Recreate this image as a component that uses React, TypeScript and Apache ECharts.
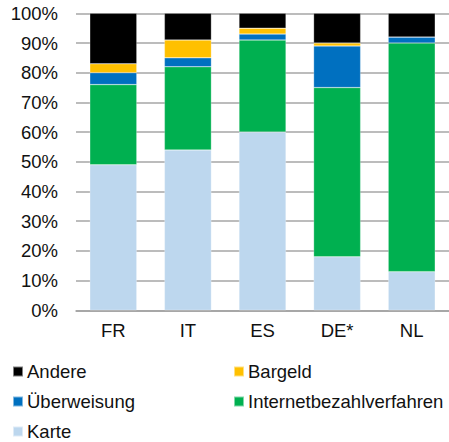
import React, { useEffect, useRef } from "react";
import * as echarts from "echarts";

const categories = ["FR", "IT", "ES", "DE*", "NL"];
const karte = [49, 54, 60, 18, 13];
const internet = [27, 28, 31, 57, 77];
const ueberweisung = [4, 3, 2, 14, 2];
const bargeld = [3, 6, 2, 1, 0];
const andere = [17, 9, 5, 10, 8];
const yTicks = [0, 10, 20, 30, 40, 50, 60, 70, 80, 90, 100];

const FONT = "'Liberation Sans', Arial, sans-serif";
const FS = 18.5;

export default function App() {
  const ref = useRef<HTMLDivElement>(null);
  useEffect(() => {
    if (!ref.current) return;
    const chart = echarts.init(ref.current, null, { renderer: "svg" });
    const mk = (name: string, data: number[], color: string) => ({
      name,
      type: "bar",
      stack: "total",
      data,
      barWidth: 47,
      itemStyle: { color, borderColor: "rgba(255,255,255,0.5)", borderWidth: 0.5 },
    });
    const legendItem = (name: string, left: number, top: number) => ({
      data: [name],
      left,
      top,
      orient: "horizontal",
      itemWidth: 10,
      itemHeight: 10,
      itemGap: 0,
      icon: "rect",
      padding: 0,
      textStyle: { fontFamily: FONT, fontSize: FS, color: "#111", padding: [0, 0, 0, -1] },
    });
    chart.setOption({
      animation: false,
      textStyle: { fontFamily: FONT },
      grid: { left: 76, right: -5, top: 13.3, bottom: 131.7, containLabel: false },
      legend: [
        legendItem("Andere", 12, 362),
        legendItem("Bargeld", 233, 362),
        legendItem("Überweisung", 12, 392),
        legendItem("Internetbezahlverfahren", 233, 392),
        legendItem("Karte", 12, 422),
      ],
      xAxis: {
        type: "category",
        data: categories,
        axisTick: { show: false },
        axisLine: { show: true, lineStyle: { color: "#a0a0a0", width: 1.5 } },
        axisLabel: { fontSize: FS, color: "#111", margin: 11, fontFamily: FONT },
      },
      yAxis: {
        type: "value",
        min: yTicks[0],
        max: yTicks[yTicks.length - 1],
        interval: 10,
        axisLine: { show: false },
        axisTick: { show: false },
        splitLine: { lineStyle: { color: "#a6a6a6", width: 1.5 } },
        axisLabel: { fontSize: FS, color: "#111", margin: 18, formatter: "{value}%", fontFamily: FONT },
      },
      series: [
        mk("Karte", karte, "#BDD7EE"),
        mk("Internetbezahlverfahren", internet, "#00B050"),
        mk("Überweisung", ueberweisung, "#0070C0"),
        mk("Bargeld", bargeld, "#FFC000"),
        mk("Andere", andere, "#000000"),
      ],
    });
    return () => chart.dispose();
  }, []);
  return (
    <div
      ref={ref}
      style={{ position: "fixed", left: 0, top: 0, width: 449, height: 442, background: "#fff" }}
    />
  );
}
